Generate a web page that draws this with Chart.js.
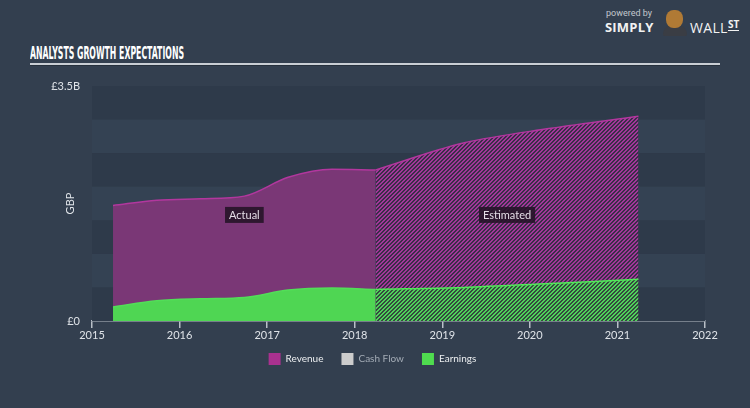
<!DOCTYPE html>
<html>
<head>
<meta charset="utf-8">
<script src="https://cdn.jsdelivr.net/npm/chart.js@4/dist/chart.umd.min.js"></script>
<style>
    html, body { margin: 0; padding: 0; }
    body { width: 750px; height: 408px; background: #333f4f; position: relative; overflow: hidden; font-family: Lato, "Open Sans", sans-serif; }
    #chartBox { position: absolute; left: 0; top: 0; width: 750px; height: 408px; }
    #title { position: absolute; left: 30px; top: 42px; color: #ffffff; font-family: "DejaVu Sans Condensed", "DejaVu Sans", sans-serif; font-weight: bold; font-size: 18px; white-space: nowrap; transform-origin: left top; }
    #rule { position: absolute; left: 30px; top: 63px; width: 690px; height: 2px; background: #c9ced4; border-bottom: 1px solid #26303c; }
    #powered { position: absolute; left: 606px; top: 8px; color: #c3c8ce; font-size: 9px; font-family: Roboto, sans-serif; }
    #simply { position: absolute; left: 605px; top: 18px; color: #f2f2f2; font-size: 13px; font-weight: bold; font-family: "Open Sans", sans-serif; letter-spacing: 0.2px; }
    #wall { position: absolute; left: 690px; top: 18px; color: #f2f2f2; font-size: 14px; font-family: "Open Sans", sans-serif; letter-spacing: 0.3px; }
    #st { position: absolute; left: 728px; top: 19px; color: #f2f2f2; font-size: 10px; font-weight: bold; font-family: "Open Sans", sans-serif; border-bottom: 1px solid #f2f2f2; line-height: 11px; }
    #bull { position: absolute; left: 666px; top: 10px; width: 17px; height: 18px; border-radius: 45%; background: #b07a35; }
    #suit { position: absolute; left: 663px; top: 25px; width: 24px; height: 11px; border-radius: 10px 10px 2px 2px; background: #3a3d44; }
</style>
</head>
<body>
<div id="powered">powered by</div>
<div id="simply">SIMPLY</div>
<div id="suit"></div>
<div id="bull"></div>
<div id="wall">WALL</div>
<div id="st">ST</div>
<div id="title">ANALYSTS GROWTH EXPECTATIONS</div>
<div id="rule"></div>
<div id="chartBox"><canvas id="growthChart" width="750" height="408"></canvas></div>
<script>
// values in GBP billions, x in fractional years
const actualYears = [2015.24, 2015.74, 2016.24, 2016.74, 2017.24, 2017.74, 2018.24];
const revenueActual = [1.72, 1.80, 1.82, 1.86, 2.14, 2.26, 2.25];
const earningsActual = [0.21, 0.30, 0.33, 0.35, 0.46, 0.49, 0.47];

const estYears = [2018.24, 2019.24, 2020.24, 2021.24];
const revenueEst = [2.25, 2.65, 2.87, 3.05];
const earningsEst = [0.47, 0.50, 0.56, 0.62];

const yearTicks = [2015, 2016, 2017, 2018, 2019, 2020, 2021, 2022];
const yTickValues = [0, 3.5];
const yTickLabels = ['£0', '£3.5B'];

const periodLabels = [
    { text: 'Actual', x: 2016.74, y: 1.58 },
    { text: 'Estimated', x: 2019.74, y: 1.58 }
];

const FONT = 'Lato, "Open Sans", sans-serif';

function toPoints(xs, ys) {
    return xs.map((x, i) => ({ x: x, y: ys[i] }));
}

// squeeze the title into the width of the original condensed headline
(function fitTitle() {
    const el = document.getElementById('title');
    const w = el.getBoundingClientRect().width;
    el.style.transform = 'scaleX(' + (154 / w) + ')';
})();

function makeHatch(bg, line) {
    const c = document.createElement('canvas');
    c.width = 4; c.height = 4;
    const g = c.getContext('2d');
    g.fillStyle = bg;
    g.fillRect(0, 0, 4, 4);
    g.fillStyle = line;
    // "/" diagonal, two pixels wide
    for (let i = 0; i < 4; i++) {
        g.fillRect(i, 3 - i, 1, 1);
        g.fillRect((i + 1) % 4, 3 - i, 1, 1);
    }
    return g.createPattern(c, 'repeat');
}

const bandsPlugin = {
    id: 'bands',
    beforeDatasetsDraw(chart) {
        const { ctx, chartArea, scales } = chart;
        const y = scales.y;
        ctx.save();
        let k = 0;
        for (let v = 3.5; v > 0.001; v -= 0.5) {
            const top = y.getPixelForValue(v);
            const bot = y.getPixelForValue(v - 0.5);
            ctx.fillStyle = (k % 2 === 0) ? '#2e3a4a' : '#344253';
            ctx.fillRect(chartArea.left, top, chartArea.right - chartArea.left, bot - top);
            k++;
        }
        ctx.restore();
    }
};

const periodLabelPlugin = {
    id: 'periodLabels',
    afterDatasetsDraw(chart) {
        const { ctx, scales, chartArea } = chart;
        ctx.save();
        ctx.font = '11px ' + FONT;
        ctx.textAlign = 'center';
        ctx.textBaseline = 'middle';
        for (const p of periodLabels) {
            const cx = scales.x.getPixelForValue(p.x);
            const cy = scales.y.getPixelForValue(p.y);
            const w = ctx.measureText(p.text).width + 8;
            ctx.fillStyle = 'rgba(38,20,40,0.9)';
            ctx.fillRect(cx - w / 2, cy - 8, w, 16);
            ctx.fillStyle = '#e4dde6';
            ctx.fillText(p.text, cx, cy + 0.5);
        }
        // axis title drawn by hand so the tick labels keep their room
        ctx.translate(chartArea.left - 22, (chartArea.top + chartArea.bottom) / 2);
        ctx.rotate(-Math.PI / 2);
        ctx.fillStyle = '#dfe3e8';
        ctx.fillText('GBP', 0, 0);
        ctx.restore();
    }
};

const ctx = document.getElementById('growthChart').getContext('2d');
const revHatch = makeHatch('#3a2e48', '#a3369a');
const earnHatch = makeHatch('#35493f', '#4fd35a');

new Chart(ctx, {
    type: 'line',
    data: {
        datasets: [
            {
                label: 'Revenue',
                data: toPoints(actualYears, revenueActual),
                borderColor: '#b2379e',
                backgroundColor: '#7a3776',
                borderWidth: 1.5,
                fill: 'origin',
                pointRadius: 0,
                cubicInterpolationMode: 'monotone',
                order: 2
            },
            {
                label: 'Revenue est',
                data: toPoints(estYears, revenueEst),
                borderColor: '#b2379e',
                backgroundColor: revHatch,
                borderWidth: 1.5,
                fill: 'origin',
                pointRadius: 0,
                cubicInterpolationMode: 'monotone',
                order: 2
            },
            {
                label: 'Cash Flow',
                data: [],
                borderColor: '#cccccc',
                backgroundColor: '#cccccc',
                order: 3
            },
            {
                label: 'Earnings',
                data: toPoints(actualYears, earningsActual),
                borderColor: '#52de58',
                backgroundColor: '#4fd653',
                borderWidth: 1.5,
                fill: 'origin',
                pointRadius: 0,
                cubicInterpolationMode: 'monotone',
                order: 1
            },
            {
                label: 'Earnings est',
                data: toPoints(estYears, earningsEst),
                borderColor: '#52e85a',
                backgroundColor: earnHatch,
                borderWidth: 1.5,
                fill: 'origin',
                pointRadius: 0,
                cubicInterpolationMode: 'monotone',
                order: 1
            }
        ]
    },
    options: {
        responsive: false,
        animation: false,
        layout: { padding: { left: 40, right: 45, top: 86, bottom: 33 } },
        scales: {
            x: {
                type: 'linear',
                min: 2015,
                max: 2022,
                afterFit(scale) {
                    scale.height = 14;
                    // labels hang below the short axis box, so don't clip them to it
                    scale._computeLabelArea = () => undefined;
                },
                afterBuildTicks(scale) { scale.ticks = yearTicks.map(v => ({ value: v })); },
                ticks: {
                    color: '#dfe3e8',
                    font: { size: 11, family: FONT },
                    padding: 1,
                    maxRotation: 0,
                    callback: v => String(v)
                },
                grid: { drawOnChartArea: false, drawTicks: true, tickLength: 7, color: '#b9c0c8', lineWidth: 1.5 },
                border: { display: true, color: '#b9c0c8', width: 1.5 }
            },
            y: {
                min: 0,
                max: 3.5,
                afterFit(scale) { scale.width = 52; },
                afterBuildTicks(scale) { scale.ticks = yTickValues.map(v => ({ value: v })); },
                ticks: {
                    color: '#dfe3e8',
                    font: { size: 11, family: FONT },
                    padding: 12,
                    callback: (v) => yTickLabels[yTickValues.indexOf(v)]
                },
                grid: { display: false, drawTicks: false },
                border: { display: false }
            }
        },
        plugins: {
            legend: {
                position: 'bottom',
                labels: {
                    boxWidth: 12,
                    boxHeight: 12,
                    padding: 18,
                    font: { size: 10, family: FONT },
                    filter: item => !item.text.endsWith(' est'),
                    sort: (a, b) => a.datasetIndex - b.datasetIndex,
                    generateLabels(chart) {
                        const items = Chart.defaults.plugins.legend.labels.generateLabels(chart);
                        items.forEach(it => {
                            const ds = chart.data.datasets[it.datasetIndex];
                            it.fillStyle = ds.label === 'Revenue' ? '#a9318f' : (ds.label === 'Earnings' ? '#4fdc4f' : '#cccccc');
                            it.strokeStyle = it.fillStyle;
                            it.lineWidth = 0;
                            it.fontColor = ds.label === 'Cash Flow' ? '#a3abb5' : '#eceef0';
                        });
                        return items;
                    }
                }
            },
            tooltip: { enabled: false }
        }
    },
    plugins: [bandsPlugin, periodLabelPlugin]
});
</script>
</body>
</html>
